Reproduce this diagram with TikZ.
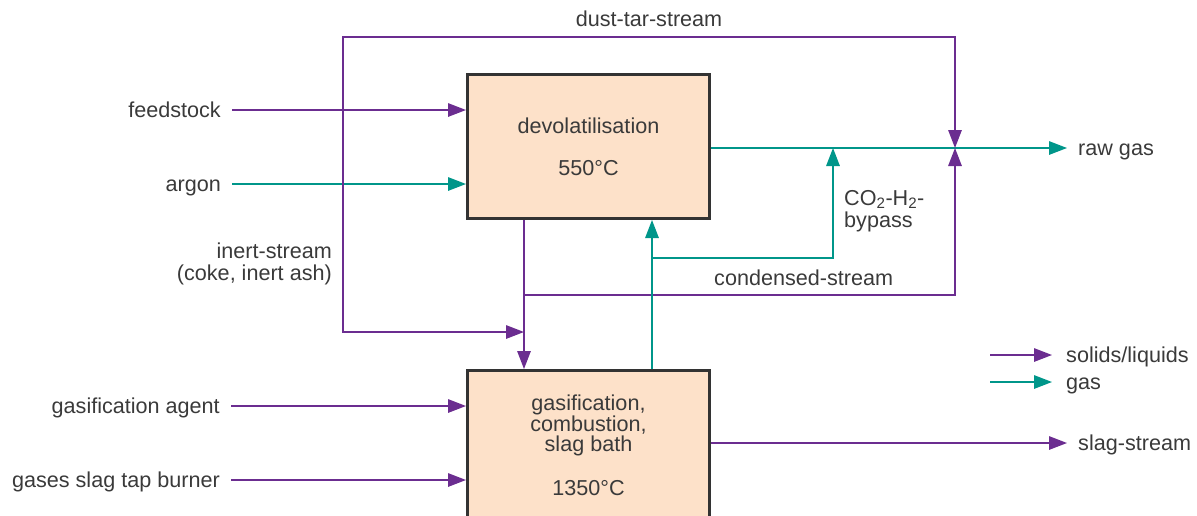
\documentclass[tikz,border=0pt]{standalone}
\usepackage{fontspec}
\setmainfont{Liberation Sans}
\usetikzlibrary{arrows.meta}
\definecolor{sol}{HTML}{6B2D90}
\definecolor{gas}{HTML}{00968A}
\definecolor{boxfill}{HTML}{FDE1C9}
\definecolor{txt}{HTML}{3A3A3A}
\definecolor{boxline}{HTML}{333333}
\tikzset{
  tipA/.tip={Triangle[length=18pt,width=13.5pt]},
}
\begin{document}
\begin{tikzpicture}[x=1pt,y=-1pt,
  every node/.style={text=txt, font=\fontsize{21.6}{20}\selectfont, inner sep=0pt},
  proc/.style={draw=boxline, line width=3pt, fill=boxfill, minimum width=242pt, align=center},
  solflow/.style={draw=sol, line width=1.4pt, -tipA},
  gasflow/.style={draw=gas, line width=1.4pt, -tipA},
  lbl/.style={anchor=east, text height=15pt, text depth=0pt},
  rlbl/.style={anchor=west, text height=15pt, text depth=0pt}]
\clip (0,0) rectangle (1197,515);
% boxes
\node[proc, minimum height=144pt] (dev) at (588.5,146.5) {devolatilisation\\[22pt]550°C};
\node[proc, minimum height=170pt] (gasi) at (588.5,455.5) {};
\node[align=center] (gastxt) at (588.5,445) {gasification,\\combustion,\\slag bath\\[24pt]1350°C};
% left inputs
\node[lbl] (lfeed) at (221,110) {feedstock};
\node[lbl] (largon) at (221,184) {argon};
\node[lbl] (lagent) at (220,406) {gasification agent};
\node[lbl] (lburn) at (220,480) {gases slag tap burner};
\draw[solflow] ([xshift=11pt]lfeed.east) -- (lfeed -| dev.west);
\draw[gasflow] ([xshift=11pt]largon.east) -- (largon -| dev.west);
\draw[solflow] ([xshift=11pt]lagent.east) -- (lagent -| gasi.west);
\draw[solflow] ([xshift=11pt]lburn.east) -- (lburn -| gasi.west);
% right outputs
\node[rlbl] (lraw) at (1078,148) {raw gas};
\node[rlbl] (lslag) at (1078,443) {slag-stream};
\draw[gasflow] (dev.east |- lraw) -- ([xshift=-11pt]lraw.west);
\draw[solflow] (gasi.east |- lslag) -- ([xshift=-11pt]lslag.west);
% junctions
\coordinate (j) at (955,148);
\coordinate (by) at (833,148);
\coordinate (dt) at (343,37);
\coordinate (ij) at (524,332);
\coordinate (cs) at (524,295);
\coordinate (bp) at (652,258);
% internal streams
\draw[solflow] (dev.south -| ij) -- (gasi.north -| ij);
\draw[solflow, tipA-tipA] (ij) -| (dt) -| (j);
\draw[solflow] (cs) -| (j);
\draw[gasflow] (gasi.north -| bp) -- (dev.south -| bp);
\draw[gasflow] (bp) -| (by);
% stream labels
\node (ldust) at (649,19) {dust-tar-stream};
\node[anchor=west] (lcond) at (714,278) {condensed-stream};
\node[anchor=west, align=left] (lbyp) at (844,211) {CO\textsubscript{2}-H\textsubscript{2}-\\[2pt]bypass};
\node[anchor=east, align=right] (linert) at (332,264) {inert-stream\\[2pt](coke, inert ash)};
% legend
\node[rlbl] (lsol) at (1066,355) {solids/liquids};
\node[rlbl] (lgas) at (1066,382) {gas};
\draw[solflow] ([xshift=-76pt]lsol.west) -- ([xshift=-14pt]lsol.west);
\draw[gasflow] ([xshift=-76pt]lgas.west) -- ([xshift=-14pt]lgas.west);
\end{tikzpicture}
\end{document}
